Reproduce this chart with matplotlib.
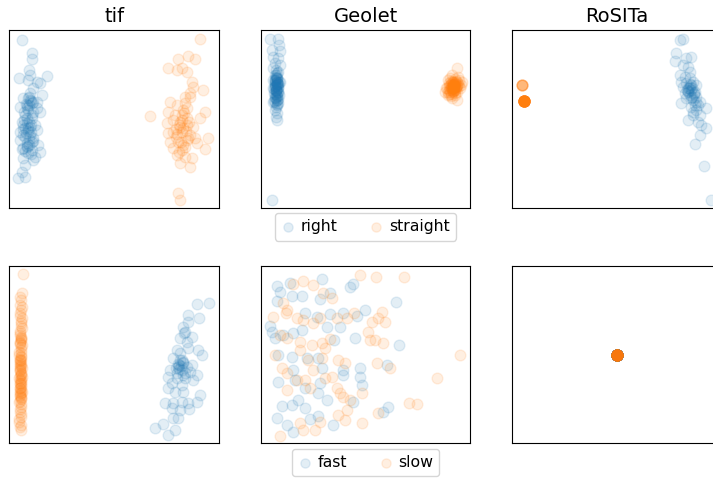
"""Six-panel scatter grid: tif / Geolet / RoSITa embeddings, two label sets."""
import matplotlib
matplotlib.use("Agg")
import matplotlib.pyplot as plt
import numpy as np

BLUE = "#1f77b4"
ORANGE = "#ff7f0e"
ALPHA = 0.12
SIZE = 60

TITLES = ["tif", "Geolet", "RoSITa"]
TOP_LABELS = ["right", "straight"]
BOTTOM_LABELS = ["fast", "slow"]

# values (pixel-ish units, y grows downward)
tif_right_x = [66, 95, 97, 88, 90, 57, 140, 85, 110, 120, 100, 125, 70, 90, 95, 80, 110, 60, 85, 100,
               120, 75, 95, 65, 80, 105, 60, 85, 110, 70, 90, 60, 100, 80, 115, 70, 95, 120, 85, 105,
               70, 75, 65, 55, 75, 100, 90, 110, 75, 95, 88, 92, 78, 82, 98, 72, 86, 93,
               88, 94, 80, 72, 68, 90, 84, 76, 100, 82, 66, 74, 92, 86, 80, 96, 70, 88, 78, 84]
tif_right_y = [45, 83, 103, 135, 150, 160, 153, 165, 170, 175, 190, 210, 220, 225, 235, 240, 230, 245, 255, 260,
               262, 270, 280, 290, 295, 300, 320, 310, 315, 330, 330, 345, 340, 355, 360, 370, 375, 380, 385, 395,
               400, 420, 440, 460, 455, 405, 205, 250, 310, 350, 240, 300, 325, 365, 230, 285, 360, 320,
               215, 228, 248, 262, 300, 305, 318, 335, 348, 362, 372, 378, 388, 290, 280, 270, 312, 342, 236, 220]
tif_straight_x = [600, 535, 565, 585, 505, 530, 545, 560, 575, 580, 610, 570, 555, 510, 530, 550, 545, 450, 615, 500,
                  520, 540, 560, 580, 520, 545, 570, 625, 510, 535, 560, 590, 520, 545, 615, 530, 555, 575, 540, 570,
                  535, 540, 505, 600, 525, 555, 570, 505, 585, 550, 548, 538, 562, 528,
                  552, 546, 540, 558, 532, 564, 544, 556, 536, 568, 528, 560]
tif_straight_y = [42, 102, 92, 102, 128, 135, 130, 140, 170, 185, 195, 205, 215, 230, 240, 255, 270, 272, 262, 295,
                  285, 290, 300, 305, 320, 320, 330, 338, 350, 350, 345, 355, 370, 375, 372, 390, 395, 400, 415, 425,
                  505, 525, 260, 280, 270, 235, 215, 325, 340, 360, 310, 300, 280, 335,
                  265, 285, 305, 318, 328, 340, 352, 366, 380, 292, 312, 250]

geo_right_x = [60, 85, 88, 65, 90, 70, 85, 75, 90, 70, 85, 75, 80, 70, 90, 75, 80, 85, 70, 78,
               82, 72, 88, 76, 80, 70, 85, 78, 75, 82, 77, 80, 67, 78, 82, 74, 86, 80, 76, 84,
               72, 79, 83, 77, 81, 75, 85, 73, 80, 78, 82, 76, 79, 84, 74, 80,
               78, 82, 76, 80, 84, 74, 79, 81, 77, 83, 75, 80, 78, 82, 76, 80, 79, 81]
geo_right_y = [42, 42, 60, 75, 78, 95, 100, 115, 120, 130, 140, 150, 160, 165, 170, 175, 180, 185, 190, 195,
               200, 205, 210, 215, 225, 230, 235, 245, 255, 265, 275, 285, 525, 155, 162, 168, 172, 178, 182, 188,
               192, 198, 202, 208, 212, 218, 222, 228, 145, 135, 170, 186, 194, 176, 166, 240,
               150, 158, 164, 170, 176, 180, 184, 190, 196, 200, 206, 212, 218, 224, 232, 238, 160, 175]
geo_straight_x = [620, 605, 625, 595, 615, 635, 600, 620, 590, 610, 630, 600, 620, 595, 615, 605, 620, 610, 615, 605,
                  612, 608, 618, 602, 610, 614, 606, 622, 598, 612, 616, 604, 610, 608, 626, 594, 611, 613, 609, 617,
                  584, 588, 628, 632, 600, 596, 604, 614, 618, 606, 610, 612, 602, 620, 608, 616, 600, 612, 606, 610,
                  598, 614, 604, 618, 608, 610, 596, 624, 602, 612]
geo_straight_y = [130, 150, 155, 165, 170, 170, 180, 180, 190, 190, 190, 200, 200, 210, 210, 220, 225, 185, 175, 195,
                  182, 188, 192, 178, 198, 186, 172, 184, 196, 176, 204, 206, 180, 190, 182, 200, 188, 194, 170, 186,
                  200, 190, 165, 180, 160, 175, 168, 162, 186, 180, 176, 192, 186, 172, 198, 178, 194, 184, 190, 170,
                  206, 196, 212, 168, 202, 184, 182, 176, 188, 180]

ros_right_x = [540, 550, 528, 525, 575, 560, 550, 565, 540, 555, 570, 545, 560, 580, 590, 550, 565, 575, 585, 555,
               570, 590, 560, 580, 545, 600, 620, 575, 590, 580, 600, 565, 595, 605, 620, 600, 585, 613, 633, 570,
               585, 595, 575, 565, 572, 582, 562, 578, 588, 568, 570, 576, 566, 584, 574, 580]
ros_right_y = [45, 42, 83, 108, 95, 100, 120, 125, 150, 155, 160, 170, 175, 170, 180, 185, 190, 195, 200, 205,
               210, 215, 220, 225, 235, 230, 250, 245, 255, 270, 270, 285, 290, 300, 310, 330, 358, 423, 525, 140,
               240, 240, 180, 200, 185, 205, 195, 215, 230, 190, 178, 188, 198, 208, 218, 262]
# the straight samples collapse onto two spots; counts give the stacking
ros_straight_x = [65, 73]
ros_straight_y = [180, 229]
ros_straight_n = [6, 30]

tif_fast_x = [592, 628, 597, 563, 565, 548, 555, 575, 540, 560, 530, 565, 595, 605, 520, 540, 550, 535, 560, 575,
              510, 545, 570, 590, 505, 530, 555, 580, 515, 545, 505, 525, 550, 600, 495, 520, 545, 565, 590, 515,
              540, 567, 520, 490, 465, 535, 505, 525, 540, 530, 538, 548, 528, 552,
              534, 542, 546, 556, 536, 550]
tif_fast_y = [133, 130, 173, 165, 185, 200, 215, 230, 235, 245, 270, 265, 270, 285, 295, 300, 310, 320, 320, 315,
              330, 330, 335, 345, 350, 355, 355, 360, 370, 375, 385, 395, 395, 405, 430, 430, 425, 430, 425, 445,
              450, 448, 475, 493, 503, 475, 525, 510, 280, 340, 315, 305, 325, 220,
              312, 318, 300, 338, 328, 345]
tif_slow_x = [68, 65, 62, 65, 60, 66, 62, 65, 60, 64, 60, 66, 62, 58, 64, 60, 66, 62, 58, 64,
              60, 66, 62, 58, 64, 60, 62, 58, 60, 62, 63, 61, 59, 65, 62, 60, 64, 61,
              62, 60, 63, 61, 59, 62, 60, 64, 61, 62,
              63, 60, 62, 64, 59, 61, 63, 60, 62, 58, 64, 61, 60, 62, 63, 59, 61, 62, 60, 64,
              62, 60, 63, 61, 59, 62, 60, 64, 61, 62, 60, 63, 58, 62, 61, 60]
tif_slow_y = [42, 100, 120, 140, 160, 175, 190, 205, 220, 235, 245, 255, 270, 285, 300, 315, 325, 340, 355, 370,
              385, 395, 410, 425, 440, 455, 470, 485, 500, 510, 240, 300, 320, 350, 380, 400, 280, 360,
              230, 250, 292, 308, 330, 345, 372, 390, 405, 418,
              150, 168, 182, 198, 212, 226, 238, 252, 262, 276, 288, 296, 304, 312, 318, 326, 334, 342, 348, 356,
              364, 368, 376, 384, 392, 398, 408, 414, 422, 432, 446, 462, 478, 494, 135, 110]

geo_fast_x = [80, 120, 90, 125, 155, 215, 82, 210, 240, 300, 310, 438, 165, 240, 280, 200, 345, 322, 60, 65,
              230, 270, 155, 75, 100, 130, 315, 252, 447, 85, 125, 170, 205, 215, 130, 280, 330, 410, 85, 135,
              165, 210, 280, 330, 335, 205, 230, 145, 125, 95, 165, 80, 110, 130, 180, 205, 250, 400, 415, 310]
geo_fast_y = [78, 70, 95, 108, 108, 58, 122, 118, 100, 80, 72, 125, 158, 162, 160, 170, 150, 168, 198, 215,
              200, 200, 210, 235, 225, 220, 235, 240, 255, 285, 292, 295, 295, 325, 330, 330, 325, 315, 365, 360,
              385, 370, 345, 350, 375, 400, 420, 420, 435, 438, 445, 475, 495, 515, 478, 468, 495, 455, 440, 425]
geo_slow_x = [330, 378, 463, 160, 130, 190, 220, 245, 100, 110, 108, 68, 140, 160, 190, 210, 260, 290, 312, 395,
              365, 385, 405, 355, 375, 360, 398, 90, 110, 150, 185, 215, 240, 225, 150, 75, 175, 215, 265, 285,
              380, 420, 95, 110, 140, 190, 245, 165, 225, 260, 270, 280, 300, 335, 110, 180, 630, 560, 478, 500,
              385, 290, 265, 285, 335, 90, 160, 195, 150, 210]
geo_slow_y = [44, 52, 52, 62, 72, 75, 100, 115, 128, 150, 160, 170, 175, 180, 190, 175, 175, 175, 160, 155,
              185, 175, 185, 215, 240, 240, 248, 225, 235, 245, 255, 250, 238, 265, 270, 285, 300, 295, 300, 310,
              310, 325, 325, 340, 360, 330, 350, 360, 355, 385, 400, 410, 420, 400, 390, 385, 285, 355, 430, 432,
              460, 450, 465, 480, 490, 528, 510, 510, 490, 485]

# axes box of each panel in the same units: (x0, x1, y_top, y_bottom)
BOX = {
    "tif_top": (28, 657, 16, 548), "geo_top": (32, 661, 16, 548), "ros_top": (37, 667, 16, 548),
    "tif_bot": (28, 657, 18, 550), "geo_bot": (32, 661, 18, 550), "ros_bot": (0, 2, 0, 2),
}

fig = plt.figure(figsize=(7.13, 4.79), dpi=100)
W, H = 713, 479
lefts = [9.3, 260.7, 512.3]
rows = [(30.3, 207.7), (266.0, 443.3)]
axw = 209.7
axes = [[fig.add_axes([l / W, (H - b) / H, axw / W, (b - t) / H]) for l in lefts] for t, b in rows]


def panel(ax, key, series):
    handles = []
    for x, y, c in series:
        handles.append(ax.scatter(x, y, s=SIZE, color=c, alpha=ALPHA))
    x0, x1, yt, yb = BOX[key]
    ax.set_xlim(x0, x1)
    ax.set_ylim(yb, yt)
    ax.set_xticks([])
    ax.set_yticks([])
    return handles


panel(axes[0][0], "tif_top", [(tif_right_x, tif_right_y, BLUE), (tif_straight_x, tif_straight_y, ORANGE)])
h_top = panel(axes[0][1], "geo_top", [(geo_right_x, geo_right_y, BLUE), (geo_straight_x, geo_straight_y, ORANGE)])
panel(axes[0][2], "ros_top", [(ros_right_x, ros_right_y, BLUE),
                              (np.repeat(ros_straight_x, ros_straight_n), np.repeat(ros_straight_y, ros_straight_n), ORANGE)])

panel(axes[1][0], "tif_bot", [(tif_fast_x, tif_fast_y, BLUE), (tif_slow_x, tif_slow_y, ORANGE)])
h_bot = panel(axes[1][1], "geo_bot", [(geo_fast_x, geo_fast_y, BLUE), (geo_slow_x, geo_slow_y, ORANGE)])
# RoSITa collapses every sample of this split onto one spot
panel(axes[1][2], "ros_bot", [(np.repeat([1.0], 40), np.repeat([1.0], 40), BLUE),
                              (np.repeat([1.0], 40), np.repeat([1.0], 40), ORANGE)])

for ax, t in zip(axes[0], TITLES):
    ax.set_title(t, fontsize=14)

leg_kw = dict(loc="upper center", bbox_to_anchor=(0.5, -0.03), borderaxespad=0, ncol=2, fontsize=11.3,
              markerscale=0.85, handlelength=0.9, handletextpad=0.35, columnspacing=2.0)
axes[0][1].legend(h_top, TOP_LABELS, **leg_kw)
axes[1][1].legend(h_bot, BOTTOM_LABELS, **leg_kw)

fig.savefig("out.png", dpi=100)
